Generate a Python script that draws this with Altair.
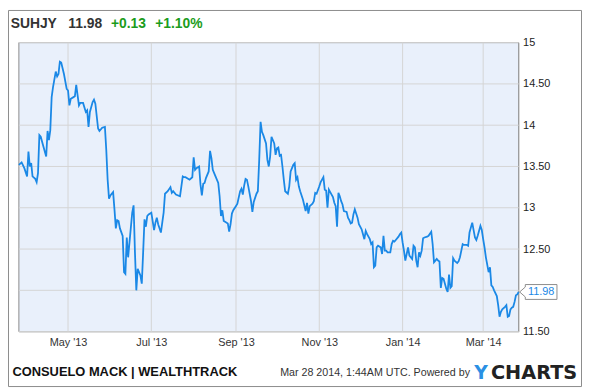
import altair as alt
import pandas as pd

# ---------------- data ----------------
symbol = "SUHJY"
last_price = "11.98"
change_abs = "+0.13"
change_pct = "+1.10%"
footer_left = "CONSUELO MACK | WEALTHTRACK"
footer_right = "Mar 28 2014, 1:44AM UTC. Powered by"
logo_y = "Y"
logo_rest = "CHARTS"

dates = [
    "2013-03-26", "2013-03-28", "2013-03-30",
    "2013-04-01", "2013-04-02", "2013-04-03", "2013-04-04", "2013-04-05", "2013-04-07",
    "2013-04-08", "2013-04-09", "2013-04-10", "2013-04-11", "2013-04-13", "2013-04-15",
    "2013-04-16", "2013-04-17", "2013-04-18", "2013-04-19", "2013-04-20", "2013-04-22",
    "2013-04-23", "2013-04-24", "2013-04-25", "2013-04-26", "2013-04-28", "2013-04-30",
    "2013-05-01", "2013-05-02", "2013-05-03", "2013-05-05", "2013-05-06", "2013-05-07",
    "2013-05-08", "2013-05-09", "2013-05-10", "2013-05-12", "2013-05-14", "2013-05-15",
    "2013-05-16", "2013-05-17", "2013-05-19", "2013-05-20", "2013-05-21", "2013-05-23",
    "2013-05-24", "2013-05-26", "2013-05-28", "2013-05-29", "2013-05-30", "2013-05-31",
    "2013-06-01", "2013-06-03", "2013-06-04", "2013-06-05", "2013-06-06", "2013-06-07",
    "2013-06-08", "2013-06-10", "2013-06-11", "2013-06-12", "2013-06-13", "2013-06-14",
    "2013-06-15", "2013-06-17", "2013-06-18", "2013-06-19", "2013-06-20", "2013-06-21",
    "2013-06-23", "2013-06-24", "2013-06-25", "2013-06-26", "2013-06-27", "2013-06-28",
    "2013-06-29",
    "2013-07-01", "2013-07-03", "2013-07-04", "2013-07-05", "2013-07-06", "2013-07-08",
    "2013-07-09", "2013-07-10", "2013-07-11", "2013-07-13", "2013-07-15", "2013-07-16",
    "2013-07-17", "2013-07-19", "2013-07-22", "2013-07-23", "2013-07-24", "2013-07-25",
    "2013-07-26", "2013-07-29", "2013-07-31",
    "2013-08-01", "2013-08-02", "2013-08-03", "2013-08-05", "2013-08-06", "2013-08-07",
    "2013-08-08", "2013-08-09", "2013-08-10", "2013-08-12", "2013-08-13", "2013-08-14",
    "2013-08-15", "2013-08-17", "2013-08-19", "2013-08-20", "2013-08-21", "2013-08-22",
    "2013-08-23", "2013-08-24", "2013-08-26", "2013-08-27", "2013-08-28", "2013-08-29",
    "2013-08-30",
    "2013-09-01", "2013-09-02", "2013-09-04", "2013-09-05", "2013-09-06", "2013-09-07",
    "2013-09-08", "2013-09-09", "2013-09-10", "2013-09-12", "2013-09-13", "2013-09-14",
    "2013-09-16", "2013-09-17", "2013-09-18", "2013-09-19", "2013-09-20", "2013-09-21",
    "2013-09-23", "2013-09-24", "2013-09-25", "2013-09-26", "2013-09-27", "2013-09-29",
    "2013-09-30",
    "2013-10-01", "2013-10-02", "2013-10-03", "2013-10-04", "2013-10-05", "2013-10-06",
    "2013-10-07", "2013-10-09", "2013-10-10", "2013-10-11", "2013-10-12", "2013-10-13",
    "2013-10-14", "2013-10-15", "2013-10-16", "2013-10-17", "2013-10-18", "2013-10-20",
    "2013-10-21", "2013-10-22", "2013-10-23", "2013-10-24", "2013-10-25", "2013-10-27",
    "2013-10-28", "2013-10-29", "2013-10-30",
    "2013-11-01", "2013-11-02", "2013-11-03", "2013-11-04", "2013-11-05", "2013-11-06",
    "2013-11-07", "2013-11-08", "2013-11-09", "2013-11-10", "2013-11-11", "2013-11-12",
    "2013-11-13", "2013-11-14", "2013-11-15", "2013-11-16", "2013-11-17", "2013-11-18",
    "2013-11-19", "2013-11-21", "2013-11-22", "2013-11-23", "2013-11-24", "2013-11-25",
    "2013-11-26", "2013-11-27", "2013-11-28", "2013-11-29", "2013-11-30",
    "2013-12-02", "2013-12-03", "2013-12-04", "2013-12-05", "2013-12-06", "2013-12-08",
    "2013-12-09", "2013-12-10", "2013-12-11", "2013-12-12", "2013-12-13", "2013-12-14",
    "2013-12-16", "2013-12-17", "2013-12-18", "2013-12-19", "2013-12-20", "2013-12-21",
    "2013-12-23", "2013-12-24", "2013-12-25", "2013-12-26", "2013-12-27", "2013-12-29",
    "2013-12-30", "2013-12-31",
    "2014-01-01", "2014-01-02", "2014-01-03", "2014-01-04", "2014-01-05", "2014-01-06",
    "2014-01-08", "2014-01-09", "2014-01-10", "2014-01-11", "2014-01-12", "2014-01-13",
    "2014-01-14", "2014-01-15", "2014-01-16", "2014-01-17", "2014-01-19", "2014-01-20",
    "2014-01-22", "2014-01-23", "2014-01-24", "2014-01-25", "2014-01-26", "2014-01-27",
    "2014-01-28", "2014-01-29", "2014-01-30", "2014-01-31",
    "2014-02-01", "2014-02-02", "2014-02-03", "2014-02-04", "2014-02-05", "2014-02-06",
    "2014-02-07", "2014-02-08", "2014-02-10", "2014-02-11", "2014-02-12", "2014-02-14",
    "2014-02-15", "2014-02-17", "2014-02-18", "2014-02-19", "2014-02-21", "2014-02-22",
    "2014-02-23", "2014-02-24", "2014-02-25", "2014-02-27", "2014-02-28",
    "2014-03-01", "2014-03-02", "2014-03-03", "2014-03-05", "2014-03-06", "2014-03-07",
    "2014-03-08", "2014-03-09", "2014-03-11", "2014-03-12", "2014-03-13", "2014-03-14",
    "2014-03-15", "2014-03-17", "2014-03-18", "2014-03-19", "2014-03-20", "2014-03-21",
    "2014-03-22", "2014-03-23", "2014-03-24", "2014-03-25", "2014-03-26", "2014-03-27",
]

prices = [
    13.52, 13.55, 13.48,
    13.38, 13.68, 13.50, 13.54, 13.38, 13.35,
    13.31, 13.42, 13.88, 13.86, 13.74, 13.62,
    13.93, 13.82, 13.94, 14.34, 14.46, 14.65,
    14.59, 14.62, 14.77, 14.76, 14.62, 14.44,
    14.42, 14.24, 14.32, 14.34, 14.35, 14.49,
    14.36, 14.24, 14.27, 14.27, 14.16, 14.18,
    13.98, 14.16, 14.28, 14.31, 14.26, 13.96,
    13.93, 13.97, 13.98, 13.70, 13.34, 13.11,
    13.15, 13.19, 12.98, 12.75, 12.85, 12.84,
    12.75, 12.66, 12.22, 12.20, 12.64, 12.40,
    12.58, 12.94, 13.03, 12.46, 12.00, 12.26,
    12.18, 12.08, 12.46, 12.86, 12.77, 12.90,
    12.92,
    12.94, 12.73, 12.82, 12.88, 12.80, 12.70,
    12.82, 12.94, 13.17, 13.20, 13.25, 13.18,
    13.20, 13.16, 13.14, 13.26, 13.38, 13.37,
    13.37, 13.34, 13.37,
    13.61, 13.46, 13.48, 13.50, 13.28, 13.15,
    13.29, 13.30, 13.36, 13.44, 13.69, 13.60,
    13.46, 13.38, 13.30, 13.14, 12.90, 12.97,
    12.84, 12.83, 12.81, 12.71, 12.80, 12.93,
    12.97,
    13.02, 13.05, 13.20, 13.23, 13.16, 13.27,
    13.35, 13.34, 13.26, 13.08, 12.95, 13.07,
    13.17, 13.20, 13.58, 14.04, 13.92, 13.88,
    13.78, 13.58, 13.50, 13.62, 13.86, 13.78,
    13.64,
    13.72, 13.73, 13.63, 13.64, 13.50, 13.34,
    13.20, 13.17, 13.26, 13.44, 13.48, 13.52,
    13.54, 13.34, 13.37, 13.26, 13.20, 13.10,
    13.03, 12.96, 13.06, 12.93, 13.02, 13.05,
    13.08, 13.18, 13.17,
    13.26, 13.31, 13.34, 13.37, 13.22, 13.21,
    13.00, 13.22, 13.19, 13.16, 13.13, 13.06,
    13.02, 12.77, 13.18, 13.14, 13.08, 13.04,
    12.96, 12.95, 12.88, 12.85, 12.81, 12.82,
    12.92, 12.98, 12.93, 12.88, 12.80,
    12.74, 12.68, 12.62, 12.72, 12.68, 12.62,
    12.56, 12.58, 12.28, 12.30, 12.52, 12.54,
    12.52, 12.44, 12.66, 12.48, 12.48, 12.46,
    12.46, 12.56, 12.60, 12.59, 12.61, 12.65,
    12.68, 12.70,
    12.58, 12.48, 12.36, 12.44, 12.52, 12.42,
    12.38, 12.54, 12.52, 12.36, 12.28, 12.46,
    12.42, 12.48, 12.63, 12.64, 12.65, 12.66,
    12.71, 12.56, 12.34, 12.36, 12.38, 12.36,
    12.35, 12.03, 12.15, 12.14,
    12.08, 12.02, 11.98, 12.19, 12.03, 12.05,
    12.39, 12.36, 12.33, 12.35, 12.40, 12.56,
    12.55, 12.55, 12.54, 12.70, 12.82, 12.73,
    12.64, 12.61, 12.66, 12.78, 12.73,
    12.62, 12.52, 12.40, 12.22, 12.28, 12.06,
    12.04, 12.00, 11.93, 11.82, 11.68, 11.74,
    11.77, 11.80, 11.82, 11.68, 11.69, 11.77,
    11.79, 11.80, 11.86, 11.94, 11.95, 11.98,
]

y_ticks = [11.5, 12.0, 12.5, 13.0, 13.5, 14.0, 14.5, 15.0]
x_tick_dates = ["2013-05-01", "2013-07-01", "2013-09-01", "2013-11-01", "2014-01-01", "2014-03-01"]
x_domain = [(2013, 3, 26), (2014, 3, 27)]

# ---------------- styles ----------------
LINE = "#1a88e6"
GREEN = "#1c9c1c"
DARK = "#333333"
GRID = "#d4d4d4"
FRAME = "#8c8c8c"
FONT = "Liberation Sans"
PLOT_W, PLOT_H = 505, 292

df = pd.DataFrame({"date": dates, "price": prices})
end_df = pd.DataFrame({"date": [dates[-1]], "price": [prices[-1]],
                       "label": [f"{prices[-1]:.2f}"]})
ygrid_df = pd.DataFrame({"price": y_ticks})
xgrid_df = pd.DataFrame({"date": x_tick_dates})

x_scale = alt.Scale(
    type="utc",
    domain=[alt.DateTime(year=y, month=m, date=d, utc=True) for (y, m, d) in x_domain],
)
y_scale = alt.Scale(domain=[y_ticks[0], y_ticks[-1]], nice=False, zero=False)

x_axis = alt.Axis(
    values=[alt.DateTime(year=int(s[:4]), month=int(s[5:7]), date=1, utc=True) for s in x_tick_dates],
    labelExpr="utcFormat(datum.value, \"%b '%y\")",
    title=None, domain=False, ticks=False, grid=False,
    labelFontSize=11, labelColor=DARK, labelPadding=5, labelFlush=False,
    labelFont=FONT,
)
y_axis = alt.Axis(
    orient="right", values=y_ticks,
    labelExpr=("datum.value == 12 ? '' : (datum.value == floor(datum.value) ? "
               "format(datum.value, 'd') : format(datum.value, '.2f'))"),
    title=None, domain=False, ticks=False, grid=False,
    labelFontSize=11, labelColor="#222222", labelPadding=4, labelFont=FONT,
    labelBaseline="middle", labelFlush=False,
)

X = alt.X("date:T", scale=x_scale, axis=x_axis)
Y = alt.Y("price:Q", scale=y_scale, axis=y_axis)

plot_bg = alt.Chart(alt.Data(values=[{}])).mark_rect(
    fill="#e9f0fb", stroke=FRAME, strokeWidth=1,
).encode(x=alt.value(0), x2=alt.value(PLOT_W), y=alt.value(0), y2=alt.value(PLOT_H))

hgrid = alt.Chart(ygrid_df).mark_rule(color=GRID, strokeWidth=1).encode(
    y=alt.Y("price:Q"))
vgrid = alt.Chart(xgrid_df).mark_rule(color=GRID, strokeWidth=1).encode(
    x=alt.X("date:T"))

line = alt.Chart(df).mark_line(color=LINE, strokeWidth=1.8).encode(x=X, y=Y)

callout_shape = ("M0.025,0 L0.1675,-0.125 L0.1675,-0.1875 L0.9675,-0.1875 "
                 "L0.9675,0.1875 L0.1675,0.1875 L0.1675,0.125 Z")
callout = alt.Chart(end_df).mark_point(
    shape=callout_shape, size=6400, filled=True, fill="white",
    stroke=FRAME, strokeWidth=1, opacity=1,
).encode(x=alt.X("date:T"), y=alt.Y("price:Q"))
callout_text = alt.Chart(end_df).mark_text(
    dx=22.7, align="center", baseline="middle", fontSize=11, color=LINE, font=FONT,
).encode(x=alt.X("date:T"), y=alt.Y("price:Q"), text="label:N")


def label(text, x, y, size, color, weight="normal", font=FONT):
    return alt.Chart(alt.Data(values=[{"t": text}])).mark_text(
        align="left", baseline="alphabetic", fontSize=size, color=color,
        fontWeight=weight, font=font,
    ).encode(x=alt.value(x), y=alt.value(y), text="t:N")


header = [
    label(symbol, -8.3, -14.3, 14, DARK, "bold"),
    label(last_price, 50, -14.3, 14, DARK, "bold"),
    label(change_abs, 93, -14.3, 14, GREEN, "bold"),
    label(change_pct, 137.7, -14.3, 14, GREEN, "bold"),
]
footer = [
    label(footer_left, -6.5, 336.5, 13, "#111111", "bold"),
    label(footer_right, 264, 336.5, 10.8, DARK),
    label(logo_y, 460, 339.5, 19, "#2a90e4", "bold", "DejaVu Sans"),
    label(logo_rest, 477, 339.5, 19.5, "#222222", "bold", "DejaVu Sans"),
]

frame = alt.Chart(alt.Data(values=[{}])).mark_rect(
    fill="transparent", stroke=FRAME, strokeWidth=1,
).encode(x=alt.value(-10.5), x2=alt.value(568.5), y=alt.value(-32.5), y2=alt.value(347.5))

chart = alt.layer(
    plot_bg, hgrid, vgrid, line, callout, callout_text, *header, *footer, frame
).properties(
    width=PLOT_W, height=PLOT_H,
    padding={"left": 11, "top": 33, "right": 64, "bottom": 57},
    autosize=alt.AutoSizeParams(type="none"),
    background="white",
).configure_view(
    fill="#e9f0fb", stroke=FRAME, strokeWidth=1,
).configure(font=FONT)

chart.save("out.html", embed_options={"renderer": "svg", "actions": False})
